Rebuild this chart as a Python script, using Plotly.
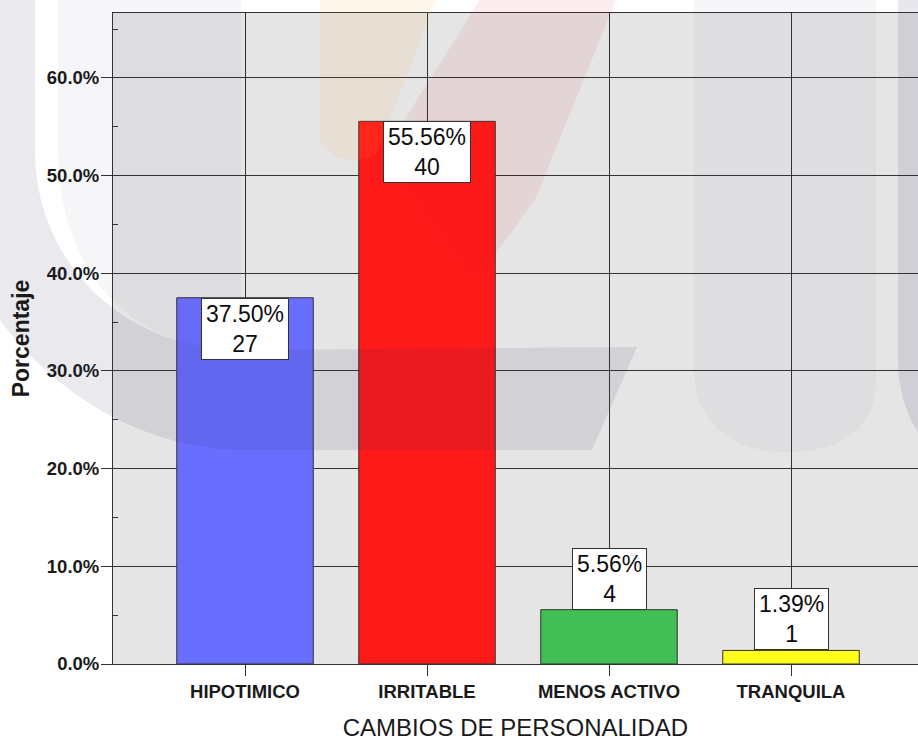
import plotly.graph_objects as go

# --- data -----------------------------------------------------------------
categories = ["HIPOTIMICO", "IRRITABLE", "MENOS ACTIVO", "TRANQUILA"]
percentages = [37.50, 55.56, 5.56, 1.39]
counts = [27, 40, 4, 1]
y_tick_values = [0, 10, 20, 30, 40, 50, 60]
y_tick_labels = ["0.0%", "10.0%", "20.0%", "30.0%", "40.0%", "50.0%", "60.0%"]

bar_colors = ["#6a6eff", "#ff1a1a", "#41bf55", "#ffff1a"]

W, H = 918, 741
ML, MR, MT, MB = 113, 0, 13, 77
FONT = "Liberation Sans, Arial, sans-serif"
LINE = "#333333"

x_pos = list(range(len(categories)))

fig = go.Figure()
fig.add_trace(go.Bar(
    x=x_pos,
    y=percentages,
    width=0.75,
    marker=dict(color=bar_colors, line=dict(color=LINE, width=1)),
    hoverinfo="skip",
    showlegend=False,
))

# value / count boxes: inside the bar top when it is tall enough, otherwise above
for xi, pct, n in zip(x_pos, percentages, counts):
    inside = pct >= 10
    fig.add_annotation(
        x=xi, y=pct, xref="x", yref="y",
        text=f"{pct:.2f}%<br>{n}",
        showarrow=False,
        yanchor="top" if inside else "bottom",
        font=dict(family=FONT, size=23, color="#0d0d0d"),
        bgcolor="white", bordercolor=LINE, borderwidth=1, borderpad=4,
        height=52,
    )

# --- faint logo watermark drawn over the chart -----------------------------
plot_w = W - ML - MR
plot_h = H - MT - MB


def to_paper(px, py):
    return (px - ML) / plot_w, (H - MB - py) / plot_h


def path(cmds):
    out = []
    for c in cmds:
        op, pts = c[0], c[1:]
        coords = " ".join("%.5f,%.5f" % to_paper(*p) for p in pts)
        out.append(op + coords if pts else op)
    return " ".join(out)


def gray(a):
    return "rgba(40,40,90,%.3f)" % a


watermark = [
    # left outer stroke curving into the lower horizontal band
    (path([("M", (-80, 0)), ("L", (35, 0)), ("L", (35, 150)),
           ("C", (35, 260), (120, 350), (245, 350)), ("L", (637, 347)),
           ("L", (592, 450)), ("L", (245, 450)),
           ("C", (150, 450), (60, 400), (0, 320)), ("L", (-80, 200)), ("Z",)]),
     gray(0.10)),
    # left inner stroke
    (path([("M", (58, 0)), ("L", (241, 0)), ("L", (241, 350)),
           ("C", (130, 350), (58, 270), (58, 150)), ("Z",)]),
     gray(0.045)),
    # right strokes
    (path([("M", (694, 0)), ("L", (876, 0)), ("L", (876, 380)),
           ("C", (876, 430), (840, 452), (785, 452)),
           ("C", (730, 452), (694, 420), (694, 370)), ("Z",)]),
     gray(0.04)),
    (path([("M", (898, 0)), ("L", (960, 0)), ("L", (960, 470)),
           ("C", (930, 455), (898, 420), (898, 360)), ("Z",)]),
     gray(0.11)),
    # warm diagonal stripes at the top
    (path([("M", (320, 0)), ("L", (436, 0)), ("L", (378, 150)),
           ("C", (370, 165), (330, 165), (320, 140)), ("Z",)]),
     "rgba(255,150,40,0.09)"),
    (path([("M", (480, 0)), ("L", (616, 0)), ("L", (535, 200)),
           ("L", (482, 272)), ("C", (476, 276), (470, 272), (466, 266)),
           ("L", (400, 175)), ("L", (398, 130)), ("Z",)]),
     "rgba(200,20,30,0.075)"),
]
for p, col in watermark:
    fig.add_shape(type="path", path=p, xref="paper", yref="paper",
                  fillcolor=col, line=dict(width=0), layer="above")

tick_font = dict(family=FONT, size=18.5, color="#1a1a1a", weight="bold")

fig.update_layout(
    width=W, height=H,
    margin=dict(l=ML, r=MR, t=MT, b=MB, pad=0),
    paper_bgcolor="white",
    plot_bgcolor="#e5e5e5",
    bargap=0.25,
    xaxis=dict(
        range=[-132 / 182, (W - 245) / 182],
        tickmode="array", tickvals=x_pos, ticktext=categories,
        tickfont=tick_font,
        ticks="outside", ticklen=11, tickwidth=1, tickcolor=LINE,
        showline=True, linecolor=LINE, linewidth=1, mirror=True,
        showgrid=True, gridcolor=LINE, gridwidth=1,
        zeroline=False,
        title=dict(text="CAMBIOS DE PERSONALIDAD", standoff=17,
                   font=dict(family=FONT, size=24, color="#1a1a1a")),
    ),
    yaxis=dict(
        range=[0, (H - MB - MT) / 97.67 * 10],
        tickmode="array", tickvals=y_tick_values, ticktext=y_tick_labels,
        tickfont=tick_font,
        ticks="outside", ticklen=11, tickwidth=1, tickcolor=LINE,
        ticklabelstandoff=-2,
        minor=dict(tickvals=[5, 15, 25, 35, 45, 55, 65], ticks="inside",
                   ticklen=5, tickwidth=1, tickcolor=LINE, showgrid=False),
        showline=True, linecolor=LINE, linewidth=1,
        showgrid=True, gridcolor=LINE, gridwidth=1,
        zeroline=False,
        title=dict(text="Porcentaje", standoff=10,
                   font=dict(family=FONT, size=23, color="#1a1a1a",
                             weight="bold")),
    ),
)

fig.write_html("out.html")
